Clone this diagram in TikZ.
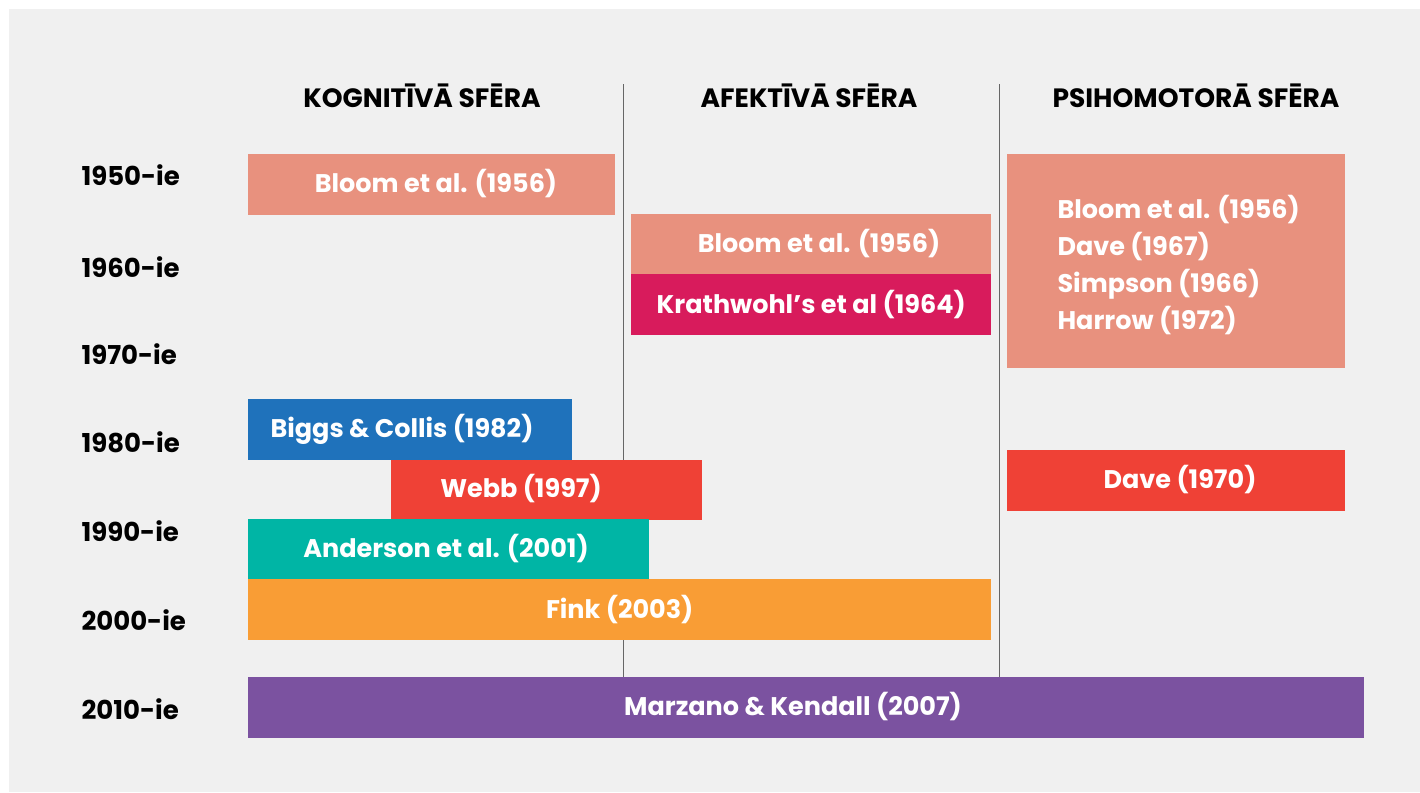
\documentclass[tikz,border=0pt]{standalone}
\usepackage{fontspec}
\setmainfont{Poppins}[UprightFont=*-Regular,BoldFont=*-Bold]
\definecolor{bgray}{HTML}{F0F0F0}
\definecolor{salmon}{HTML}{E8917E}
\definecolor{crimson}{HTML}{D81B5C}
\definecolor{cblue}{HTML}{1F72BB}
\definecolor{cred}{HTML}{EF4136}
\definecolor{cteal}{HTML}{00B5A5}
\definecolor{corange}{HTML}{F99D35}
\definecolor{cpurple}{HTML}{7B52A0}
\tikzset{
  bar/.style={anchor=north west, inner sep=0pt, minimum height=60.5pt},
  lbl/.style={text=white, font=\bfseries\fontsize{25.5}{30}\selectfont},
  head/.style={font=\bfseries\fontsize{26.5}{30}\selectfont},
  decade/.style={anchor=west, font=\bfseries\fontsize{26}{30}\selectfont},
}
\begin{document}
\begin{tikzpicture}[x=1pt,y=-1pt]
\useasboundingbox (0,0) rectangle (1420,792);
\fill[bgray] (9,9) rectangle (1420,792);

% sferas
\node[head] (hK) at (422,96) {KOGNITĪVĀ SFĒRA};
\node[head] (hA) at (809,96) {AFEKTĪVĀ SFĒRA};
\node[head] (hP) at (1196,96) {PSIHOMOTORĀ SFĒRA};

\coordinate (sepAt) at (623,84);
\coordinate (sepAb) at (623,677);
\coordinate (sepBt) at (999,84);
\coordinate (sepBb) at (999,677);
\draw[gray!80!black, line width=1pt] (sepAt)--(sepAb);
\draw[gray!80!black, line width=1pt] (sepBt)--(sepBb);

% desmitgades
\foreach \yr/\yy in {1950/175,1960/267,1970/354,1980/442,1990/531,2000/620,2010/709}
  \node[decade] (d\yr) at (78,\yy) {\yr-ie};

% kognitivaa
\node[bar, fill=salmon, minimum width=367pt] (kBloom) at (248,154) {};
\node[bar, fill=cblue, minimum width=324pt] (kBiggs) at (248,399) {};
\node[bar, fill=cred, minimum width=311pt] (kWebb) at (391,459.5) {};
\node[bar, fill=cteal, minimum width=401pt] (kAnd) at (248,519) {};
\node[bar, fill=corange, minimum width=743pt] (kFink) at (248,579) {};
% afektivaa
\node[bar, fill=salmon, minimum width=360pt] (aBloom) at (631,214) {};
\node[bar, fill=crimson, minimum width=360pt] (aKrat) at (631,274) {};
% psihomotoraa
\node[bar, fill=salmon, minimum width=338pt, minimum height=214pt] (pBloom) at (1007,154) {};
\node[bar, fill=cred, minimum width=338pt] (pDave) at (1007,450) {};
% visas
\node[bar, fill=cpurple, minimum width=1116pt, minimum height=61pt] (mK) at (248,677) {};

\node[lbl] at (436,184) {Bloom et al. (1956)};
\node[lbl] at (402,429) {Biggs \& Collis (1982)};
\node[lbl] at (521,489) {Webb (1997)};
\node[lbl] at (446,549) {Anderson et al. (2001)};
\node[lbl] at (kFink.center) {Fink (2003)};
\node[lbl] at (819,244) {Bloom et al. (1956)};
\node[lbl] at (aKrat.center) {Krathwohl’s et al (1964)};
\node[lbl, anchor=west, align=left, font=\bfseries\fontsize{25.5}{36.7}\selectfont] at (1054,265)
  {Bloom et al. (1956)\\Dave (1967)\\Simpson (1966)\\Harrow (1972)};
\node[lbl] at (1180,480) {Dave (1970)};
\node[lbl] at (793,707) {Marzano \& Kendall (2007)};
\end{tikzpicture}
\end{document}
